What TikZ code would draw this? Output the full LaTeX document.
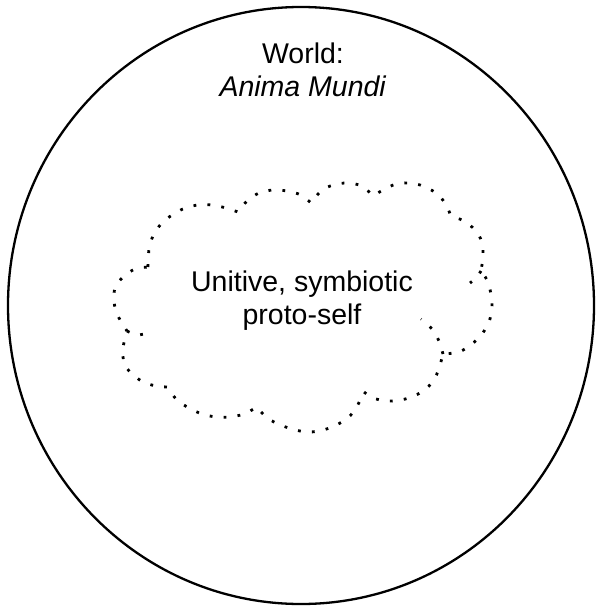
\documentclass[tikz,border=0pt]{standalone}
\usepackage{fontspec}
\setmainfont{Liberation Sans}
\usetikzlibrary{calc}

\begin{document}
\begin{tikzpicture}[x=1pt,y=-1pt,
  cloudline/.style={line width=2.8pt,dash pattern=on 2.8pt off 11.2pt},
  label/.style={align=center,font=\fontsize{28.5}{33}\selectfont}]
  \useasboundingbox (0,0) rectangle (597,608);
  \draw[line width=2.3pt] (301,305.5) ellipse [x radius=293,y radius=-298.5];
  % cloud, lobe by lobe
  \draw[cloudline]
    plot[smooth] coordinates {(148,267) (149,249) (153,236) (161,224) (172,215) (185,208) (198,205) (212,205) (226,208) (238,212)}
    -- plot[smooth] coordinates {(238,212) (247,201) (259,193) (273,190) (287,191) (301,195) (311,203)}
    -- plot[smooth] coordinates {(311,203) (321,191) (333,185) (347,183) (362,186) (373,196)}
    -- plot[smooth] coordinates {(373,196) (383,190) (396,184) (410,183) (423,186) (436,193) (445,203) (451,216)}
    -- plot[smooth] coordinates {(451,216) (464,221) (475,230) (482,242) (483,256) (481,271)}
    -- plot[smooth] coordinates {(481,271) (487,280) (491,294) (492,308) (489,322) (482,334) (472,344) (459,352) (443,354)}
    -- plot[smooth] coordinates {(443,354) (440,365) (435,378) (426,389) (414,396) (401,400) (387,401) (373,398) (364,392)}
    -- plot[smooth] coordinates {(364,392) (355,410) (345,420) (332,427) (319,431) (306,432) (292,429) (278,424) (266,417) (257,407)}
    -- plot[smooth] coordinates {(257,407) (244,414) (230,417) (216,417) (202,414) (189,408) (177,400) (167,387)}
    -- plot[smooth] coordinates {(167,387) (156,386) (143,382) (131,373) (124,363) (123,348) (127,331)}
    -- plot[smooth] coordinates {(127,331) (118,316) (114,302) (115,288) (123,277) (135,269) (148,267)};
  \draw[cloudline] plot[smooth] coordinates {(127,331) (137,335) (148,333)};
  \draw[cloudline] plot[smooth] coordinates {(481,271) (476,278) (470,283)};
  \draw[cloudline] plot[smooth] coordinates {(443,354) (439,341) (432,329) (421,319)};
  \node[label] (world) at (303,70) {World:\\\textit{Anima Mundi}};
  \node[label] (self) at (302,300.5) {Unitive, symbiotic\\proto-self};
\end{tikzpicture}
\end{document}
